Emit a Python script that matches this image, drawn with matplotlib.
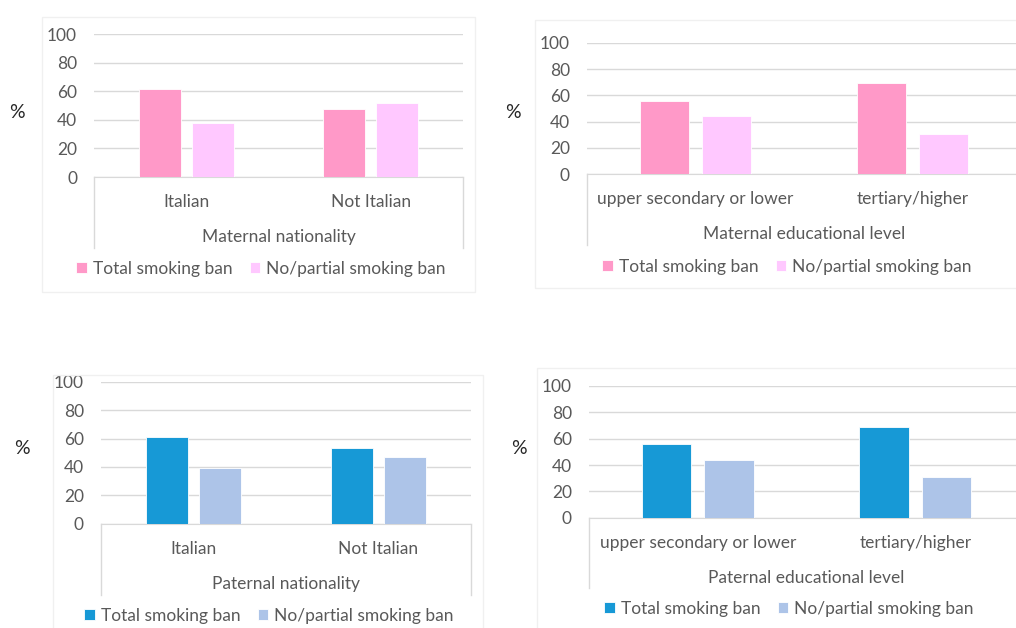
import matplotlib
matplotlib.use("Agg")
import matplotlib.pyplot as plt
from matplotlib.lines import Line2D
from matplotlib.patches import Rectangle

W, H = 1016, 628

# ── Data (percent) ────────────────────────────────────────────────
series = ["Total smoking ban", "No/partial smoking ban"]
nat_cats = ["Italian", "Not Italian"]
edu_cats = ["upper secondary or lower", "tertiary/higher"]

mat_nat_total = [62, 48]
mat_nat_none = [38, 52]
mat_edu_total = [56, 69]
mat_edu_none = [44, 31]
pat_nat_total = [61, 53]
pat_nat_none = [39, 47]
pat_edu_total = [56, 69]
pat_edu_none = [44, 31]

yticks = [0, 20, 40, 60, 80, 100]

PINK = "#FF99C8"
PINK_LIGHT = "#FFC8FF"
BLUE = "#1799D6"
BLUE_LIGHT = "#ADC4E8"
TEXT = "#595959"
GRID = "#D9D9D9"
FS = 12.5

plt.rcParams["font.family"] = ["Lato", "DejaVu Sans"]


def fx(x):
    return x / W


def fy(y):
    return 1 - y / H


def panel(box, x0, x1, y100, y0, cats, total, none, colors, xlabel,
          cat_y, xlab_y, vline_bot, leg_y, leg_x, pct_xy, tick_right):
    fig = plt.gcf()
    # faint panel frame
    bx0, by0, bx1, by1 = box
    fig.patches.append(Rectangle((fx(bx0), fy(by1)), fx(bx1 - bx0), (by1 - by0) / H,
                                 transform=fig.transFigure, facecolor="none",
                                 edgecolor="#F0F0F0", lw=1))
    ax = fig.add_axes([fx(x0), fy(y0), fx(x1 - x0), (y0 - y100) / H])
    xs = range(len(cats))
    w, off = 0.227, 0.143
    b1 = ax.bar([x - off for x in xs], total, width=w, color=colors[0],
                edgecolor="white", lw=0.6, zorder=3, label=series[0])
    b2 = ax.bar([x + off for x in xs], none, width=w, color=colors[1],
                edgecolor="white", lw=0.6, zorder=3, label=series[1])
    ax.set_xlim(-0.5, len(cats) - 0.5)
    ax.set_ylim(0, 100)
    ax.set_yticks(yticks)
    ax.yaxis.grid(True, color=GRID, lw=1, zorder=0)
    for s in ["top", "right", "left"]:
        ax.spines[s].set_visible(False)
    ax.spines["bottom"].set_color(GRID)
    ax.spines["bottom"].set_zorder(2)
    ax.set_xticks([])
    ax.tick_params(axis="y", length=0, pad=(x0 - tick_right) * 0.72,
                   labelsize=FS, labelcolor=TEXT)
    # category labels, one per group
    for i, c in enumerate(cats):
        cx = x0 + (i + 0.5) * (x1 - x0) / len(cats)
        fig.text(fx(cx), fy(cat_y), c, ha="center", va="center",
                 fontsize=FS, color=TEXT)
    fig.text(fx((x0 + x1) / 2), fy(xlab_y), xlabel, ha="center", va="center",
             fontsize=FS, color=TEXT)
    for vx in (x0, x1):
        fig.add_artist(Line2D([fx(vx), fx(vx)], [fy(y0), fy(vline_bot)],
                              color=GRID, lw=1))
    fig.text(fx(pct_xy[0]), fy(pct_xy[1]), "%", ha="center", va="center",
             fontsize=14, color="#262626")
    ax.legend(handles=[b1, b2], loc="center", ncol=2, frameon=False,
              bbox_to_anchor=(fx(leg_x), fy(leg_y)), bbox_transform=fig.transFigure,
              fontsize=FS, handlelength=0.6, handleheight=0.6,
              handletextpad=0.35, columnspacing=1.0, labelcolor=TEXT,
              borderpad=0, borderaxespad=0)
    return ax


fig = plt.figure(figsize=(W / 100, H / 100), dpi=100)

panel((42, 17, 475, 292), 94, 463, 34.3, 177, nat_cats,
      mat_nat_total, mat_nat_none, (PINK, PINK_LIGHT), "Maternal nationality",
      202, 237, 248, 269, 261, (17, 112), 77)

panel((535, 20, 1030, 288), 587, 1021, 42.7, 174.3, edu_cats,
      mat_edu_total, mat_edu_none, (PINK, PINK_LIGHT), "Maternal educational level",
      199, 234, 245, 267, 787, (513, 112), 570)

panel((53, 375, 483, 640), 101, 471, 381.7, 523.7, nat_cats,
      pat_nat_total, pat_nat_none, (BLUE, BLUE_LIGHT), "Paternal nationality",
      549, 584, 595, 616, 269, (22, 449), 84)

panel((537, 368, 1030, 640), 589, 1024, 386, 517.7, edu_cats,
      pat_edu_total, pat_edu_none, (BLUE, BLUE_LIGHT), "Paternal educational level",
      543, 578, 588, 609, 789, (519, 449), 572)

fig.savefig("out.png", dpi=100, facecolor="white")
